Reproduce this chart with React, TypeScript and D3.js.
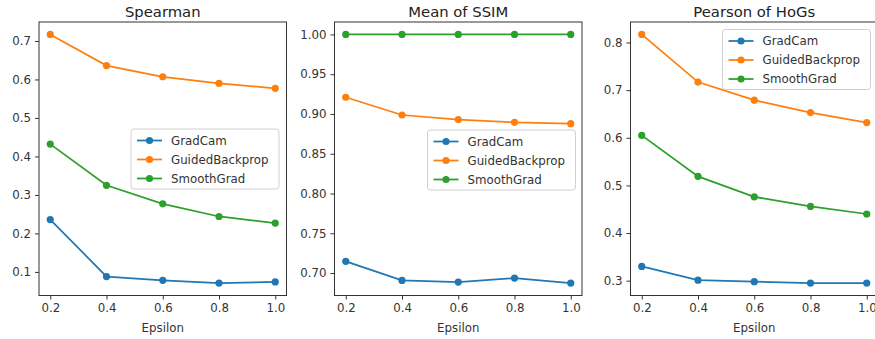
import React, { useEffect, useRef } from 'react';
import * as d3 from 'd3';

const epsilons = [0.2, 0.4, 0.6, 0.8, 1.0];
const methods = ['GradCam', 'GuidedBackprop', 'SmoothGrad'];
const colors = ['#1f77b4', '#ff7f0e', '#2ca02c'];

// Spearman
const spearmanGradCam = [0.236, 0.088, 0.078, 0.071, 0.074];
const spearmanGuided = [0.717, 0.636, 0.607, 0.590, 0.577];
const spearmanSmooth = [0.432, 0.325, 0.277, 0.244, 0.227];

// Mean of SSIM
const ssimGradCam = [0.7147, 0.6907, 0.6887, 0.6937, 0.6874];
const ssimGuided = [0.921, 0.8987, 0.8929, 0.8895, 0.8878];
const ssimSmooth = [1.0, 1.0, 1.0, 1.0, 1.0];

// Pearson of HoGs
const hogGradCam = [0.330, 0.301, 0.298, 0.295, 0.295];
const hogGuided = [0.817, 0.717, 0.679, 0.653, 0.632];
const hogSmooth = [0.605, 0.519, 0.476, 0.456, 0.440];

const xTicks = [0.2, 0.4, 0.6, 0.8, 1.0];
const spearmanTicks = [0.1, 0.2, 0.3, 0.4, 0.5, 0.6, 0.7];
const ssimTicks = [0.7, 0.75, 0.8, 0.85, 0.9, 0.95, 1.0];
const hogTicks = [0.3, 0.4, 0.5, 0.6, 0.7, 0.8];

const panels = [
  { title: 'Spearman', series: [spearmanGradCam, spearmanGuided, spearmanSmooth], ticks: spearmanTicks, fmt: '.1f', legend: { x: 131, y: 129 } },
  { title: 'Mean of SSIM', series: [ssimGradCam, ssimGuided, ssimSmooth], ticks: ssimTicks, fmt: '.2f', legend: { x: 427.5, y: 130 } },
  { title: 'Pearson of HoGs', series: [hogGradCam, hogGuided, hogSmooth], ticks: hogTicks, fmt: '.1f', legend: { x: 722.5, y: 29.5 } },
];

const W = 875;
const H = 339;
const FONT = 'DejaVu Sans, sans-serif';

export default function App() {
  const svgRef = useRef<SVGSVGElement>(null);

  useEffect(() => {
    if (!svgRef.current) return;
    const svg = d3.select(svgRef.current);
    svg.selectAll('*').remove();

    const lefts = [39, 334.5, 630.5];
    const pw = 247.5;
    const top = 22;
    const bottom = 295.5;

    panels.forEach((p, pi) => {
      const x0 = lefts[pi];
      const all = p.series.flat();
      const [mn, mx] = d3.extent(all) as [number, number];
      const pad = (mx - mn) * 0.05;

      const xScale = d3.scaleLinear().domain([0.16, 1.04]).range([x0, x0 + pw]);
      const yScale = d3.scaleLinear().domain([mn - pad, mx + pad]).range([bottom, top]);

      const g = svg.append('g');

      // lines + markers
      p.series.forEach((vals, si) => {
        const pts = epsilons.map((e, i) => [e, vals[i]] as [number, number]);
        g.append('path')
          .datum(pts)
          .attr('fill', 'none')
          .attr('stroke', colors[si])
          .attr('stroke-width', 1.75)
          .attr('d', d3.line<[number, number]>().x(d => xScale(d[0])).y(d => yScale(d[1])));
        g.selectAll(null)
          .data(pts)
          .enter()
          .append('circle')
          .attr('cx', d => xScale(d[0]))
          .attr('cy', d => yScale(d[1]))
          .attr('r', 3.6)
          .attr('fill', colors[si]);
      });

      // frame
      g.append('rect')
        .attr('x', x0)
        .attr('y', top)
        .attr('width', pw)
        .attr('height', bottom - top)
        .attr('fill', 'none')
        .attr('stroke', '#333')
        .attr('stroke-width', 1);

      // x axis
      const xa = g.append('g')
        .attr('transform', `translate(0,${bottom})`)
        .call(d3.axisBottom(xScale).tickValues(xTicks).tickFormat(d3.format('.1f')).tickSize(4).tickPadding(4));
      xa.select('.domain').remove();
      xa.selectAll('line').attr('stroke', '#333');
      xa.selectAll('text').attr('fill', '#333').attr('font-size', 11.8).attr('font-family', FONT);

      // y axis
      const ya = g.append('g')
        .attr('transform', `translate(${x0},0)`)
        .call(d3.axisLeft(yScale).tickValues(p.ticks).tickFormat(d3.format(p.fmt)).tickSize(4).tickPadding(4));
      ya.select('.domain').remove();
      ya.selectAll('line').attr('stroke', '#333');
      ya.selectAll('text').attr('fill', '#333').attr('font-size', 11.8).attr('font-family', FONT);

      // title
      g.append('text')
        .attr('x', x0 + pw / 2)
        .attr('y', 16.5)
        .attr('text-anchor', 'middle')
        .attr('font-size', 14.8)
        .attr('font-family', FONT)
        .attr('fill', '#222')
        .text(p.title);

      // x label
      g.append('text')
        .attr('x', x0 + pw / 2)
        .attr('y', 331.5)
        .attr('text-anchor', 'middle')
        .attr('font-size', 11.8)
        .attr('font-family', FONT)
        .attr('fill', '#333')
        .text('Epsilon');

      // legend
      const lg = g.append('g').attr('transform', `translate(${p.legend.x},${p.legend.y})`);
      lg.append('rect')
        .attr('width', 148)
        .attr('height', 60)
        .attr('rx', 3)
        .attr('fill', 'white')
        .attr('fill-opacity', 0.8)
        .attr('stroke', '#d0d0d0')
        .attr('stroke-width', 1);
      methods.forEach((m, i) => {
        const cy = 11.5 + i * 19;
        lg.append('line')
          .attr('x1', 6).attr('x2', 31)
          .attr('y1', cy).attr('y2', cy)
          .attr('stroke', colors[i])
          .attr('stroke-width', 1.75);
        lg.append('circle')
          .attr('cx', 18.5).attr('cy', cy).attr('r', 3.6)
          .attr('fill', colors[i]);
        lg.append('text')
          .attr('x', 40)
          .attr('y', cy + 4.2)
          .attr('font-size', 11.8)
          .attr('font-family', FONT)
          .attr('fill', '#333')
          .text(m);
      });
    });
  }, []);

  return (
    <svg ref={svgRef} width={W} height={H}
      style={{ position: 'absolute', left: 0, top: 0, background: 'white' }} />
  );
}
